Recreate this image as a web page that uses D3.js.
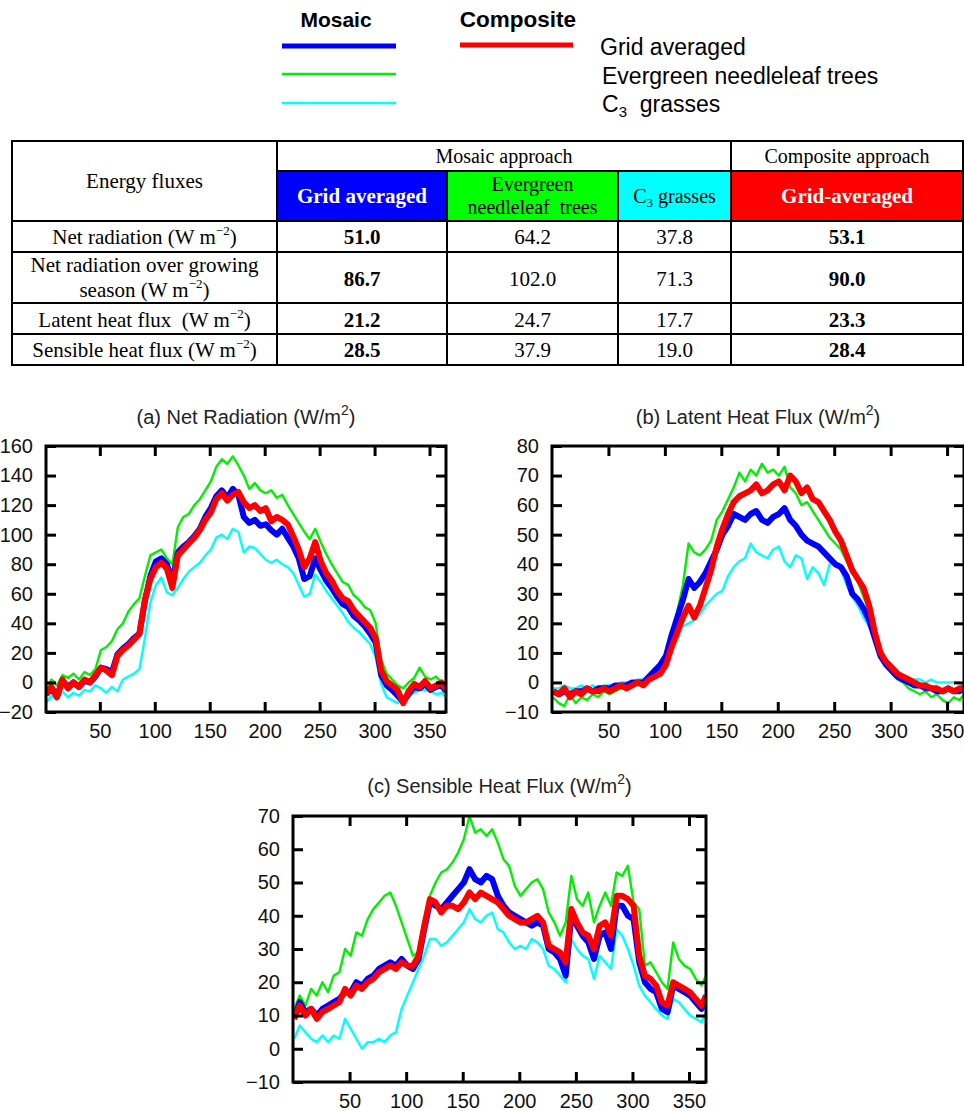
<!DOCTYPE html>
<html>
<head>
<meta charset="utf-8">
<script src="https://cdn.jsdelivr.net/npm/d3@7"></script>
<style>
  body { margin: 0; background: #fff; }
  svg { display: block; }
</style>
</head>
<body>
<div id="chart"></div>
<script>
// day of year used for every series (one value every 5 days)
const days = [1, 6, 11, 16, 21, 26, 31, 36, 41, 46, 51, 56, 61, 66, 71, 76, 81, 86, 91, 96,
  101, 106, 111, 116, 121, 126, 131, 136, 141, 146, 151, 156, 161, 166, 171, 176, 181, 186, 191, 196,
  201, 206, 211, 216, 221, 226, 231, 236, 241, 246, 251, 256, 261, 266, 271, 276, 281, 286, 291, 296,
  301, 306, 311, 316, 321, 326, 331, 336, 341, 346, 351, 356, 361, 365];

// (a) net radiation
const netRadTrees = [-5, 2, -2, 5, 3, 6, 2, 7, 5, 9, 22, 24, 28, 36, 40, 48, 53, 57, 72, 86,
  88, 90, 84, 80, 105, 112, 114, 120, 124, 130, 136, 146, 151, 148, 153, 147, 140, 131, 135, 130,
  128, 130, 125, 127, 120, 114, 108, 102, 97, 104, 95, 87, 80, 74, 68, 66, 59, 56, 51, 49,
  40, 15, 6, 2, -2, -4, 0, 3, 10, 4, 2, 4, 0, -3];
const netRadGrass = [-14, -9, -12, -6, -10, -7, -9, -5, -6, -2, -4, -7, -3, -6, 2, 4, 6, 9, 30, 54,
  66, 71, 61, 59, 64, 70, 75, 78, 81, 86, 90, 98, 100, 97, 104, 102, 88, 92, 91, 87,
  83, 81, 83, 80, 78, 74, 66, 58, 60, 73, 68, 62, 57, 52, 47, 41, 37, 34, 30, 26,
  17, -1, -10, -12, -14, -11, -9, -7, -5, -5, -6, -8, -7, -10];
const netRadMosaic = [-8, -4, -9, 1, -3, 0, -3, 1, 0, 4, 10, 9, 7, 19, 23, 26, 30, 33, 55, 72,
  82, 84, 80, 68, 88, 92, 95, 99, 104, 112, 118, 126, 130, 125, 131, 127, 112, 108, 110, 106,
  107, 103, 100, 104, 98, 92, 84, 70, 72, 84, 76, 69, 64, 58, 53, 51, 45, 42, 38, 33,
  27, 5, -2, -5, -9, -13, -8, -3, -4, -1, -5, -3, -2, -6];
const netRadComposite = [-8, -3, -10, 2, -4, 0, -3, 2, 0, 5, 10, 8, 5, 18, 22, 25, 29, 33, 56, 70,
  78, 81, 77, 64, 86, 90, 94, 98, 103, 110, 115, 124, 128, 123, 127, 129, 122, 118, 120, 116,
  118, 109, 112, 110, 107, 99, 90, 78, 84, 95, 82, 74, 69, 62, 57, 55, 49, 45, 41, 37,
  30, 8, 1, -2, -5, -14, -6, -1, -3, 1, -4, -2, 0, -5];

// (b) latent heat flux
const latentTrees = [-5, -7, -8, -4, -7, -5, -6, -4, -5, -3, -4, -3, -2, -2, -1, -1, 0, 1, 3, 6,
  9, 15, 24, 33, 47, 44, 43, 45, 48, 55, 58, 62, 66, 71, 68, 72, 70, 74, 71, 72,
  70, 73, 66, 64, 60, 61, 58, 55, 52, 49, 47, 45, 41, 37, 34, 29, 24, 17, 9, 6,
  3, 1, 0, -2, -3, -4, -3, -5, -4, -6, -7, -5, -6, -4];
const latentGrass = [-2, -2, -1, -2, -2, -1, -2, -1, -2, -1, -1, -1, 0, 0, 0, 1, 1, 2, 3, 5,
  7, 11, 14, 19, 20, 21, 23, 26, 28, 30, 31, 36, 39, 41, 42, 47, 44, 43, 42, 45,
  46, 41, 39, 43, 42, 35, 39, 37, 33, 40, 41, 38, 33, 29, 26, 22, 19, 15, 10, 8,
  6, 4, 2, 1, 1, 1, 0, 1, 0, 0, 0, 0, 0, -1];
const latentMosaic = [-3, -4, -3, -4, -3, -3, -2, -3, -2, -2, -2, -1, -1, -1, 0, 0, 0, 2, 4, 6,
  9, 16, 22, 28, 35, 32, 34, 37, 41, 45, 50, 53, 57, 56, 55, 57, 58, 55, 54, 56,
  57, 59, 55, 53, 50, 48, 47, 46, 44, 42, 40, 39, 36, 30, 28, 25, 21, 15, 9, 6,
  4, 2, 1, 0, -1, -1, -2, -2, -3, -3, -2, -3, -3, -2];
const latentComposite = [-3, -4, -2, -5, -3, -4, -2, -3, -3, -2, -3, -2, -1, -2, -1, 0, -1, 1, 2, 3,
  6, 12, 17, 22, 26, 22, 26, 32, 38, 46, 52, 57, 61, 63, 64, 65, 67, 64, 65, 67,
  68, 65, 70, 68, 64, 66, 62, 61, 58, 55, 51, 48, 43, 38, 35, 32, 26, 17, 10, 7,
  5, 3, 2, 1, 0, -1, -1, -2, -2, -3, -2, -3, -2, -2];

// (c) sensible heat flux
const sensibleTrees = [12, 16, 13, 18, 16, 20, 17, 22, 23, 30, 28, 35, 34, 39, 42, 44, 46, 47, 43, 38,
  33, 28, 29, 35, 46, 50, 53, 54, 56, 59, 63, 70, 65, 66, 64, 66, 62, 57, 55, 49,
  46, 48, 50, 51, 48, 41, 38, 34, 38, 52, 45, 43, 47, 38, 43, 47, 43, 53, 52, 55,
  44, 42, 25, 26, 23, 20, 18, 32, 27, 25, 24, 21, 19, 22];
const sensibleGrass = [3, 7, 5, 3, 2, 4, 2, 4, 3, 9, 6, 3, 0, 2, 2, 3, 2, 4, 5, 12,
  16, 20, 24, 28, 33, 33, 31, 32, 34, 36, 38, 42, 39, 38, 40, 41, 36, 35, 32, 30,
  31, 30, 33, 32, 30, 25, 24, 22, 20, 33, 30, 28, 27, 21, 28, 26, 24, 36, 34, 30,
  25, 19, 16, 14, 12, 10, 9, 15, 14, 12, 10, 9, 8, 11];
const sensibleMosaic = [9, 14, 11, 12, 10, 12, 13, 14, 15, 17, 17, 20, 19, 21, 22, 24, 25, 26, 25, 27,
  25, 24, 27, 36, 44, 43, 42, 44, 46, 48, 50, 54, 51, 50, 52, 51, 46, 43, 41, 40,
  39, 38, 37, 38, 37, 30, 29, 27, 22, 40, 37, 34, 32, 27, 34, 35, 30, 43, 43, 40,
  39, 26, 20, 18, 17, 12, 11, 19, 18, 17, 16, 14, 12, 15];
const sensibleComposite = [9, 13, 10, 12, 9, 11, 12, 13, 14, 18, 16, 19, 18, 20, 21, 23, 24, 25, 24, 26,
  25, 25, 28, 37, 45, 44, 41, 43, 43, 42, 44, 47, 45, 47, 46, 45, 44, 42, 40, 39,
  38, 38, 39, 40, 38, 31, 30, 29, 26, 42, 38, 35, 34, 30, 37, 38, 34, 46, 46, 45,
  43, 28, 22, 21, 19, 14, 13, 20, 19, 18, 17, 15, 13, 16];

// table
const rowNames = [["Net radiation (W m", ")"], ["Net radiation over growing", "season (W m", ")"],
  ["Latent heat flux \u00a0(W m", ")"], ["Sensible heat flux (W m", ")"]];
const mosaicGridVals = ["51.0", "86.7", "21.2", "28.5"];
const mosaicTreeVals = ["64.2", "102.0", "24.7", "37.9"];
const mosaicGrassVals = ["37.8", "71.3", "17.7", "19.0"];
const compositeGridVals = ["53.1", "90.0", "23.3", "28.4"];

const legendLabels = ["Grid averaged", "Evergreen needleleaf trees", "grasses"];

const BLUE = "#0000ff", RED = "#ff0000", GREEN = "#00f000", CYAN = "#00ffff";
const SANS = "'Liberation Sans', Arial, Helvetica, sans-serif";
const SERIF = "'Liberation Serif', 'Times New Roman', serif";

const svg = d3.select("#chart").append("svg")
  .attr("width", 964).attr("height", 1111);
svg.append("rect").attr("width", 964).attr("height", 1111).attr("fill", "#fff");

// ---------- legend ----------
const leg = svg.append("g").attr("font-family", SANS).attr("fill", "#000");
leg.append("text").attr("x", 336).attr("y", 27).attr("text-anchor", "middle")
  .attr("font-weight", "bold").attr("font-size", 21).text("Mosaic");
leg.append("text").attr("x", 518).attr("y", 27).attr("text-anchor", "middle")
  .attr("font-weight", "bold").attr("font-size", 22.5).text("Composite");

const legLines = [
  { x1: 282, x2: 396, y: 46, c: BLUE, w: 5 },
  { x1: 460, x2: 573, y: 45, c: RED, w: 5 },
  { x1: 282, x2: 396, y: 74, c: GREEN, w: 2.5 },
  { x1: 282, x2: 396, y: 103, c: CYAN, w: 2.5 }
];
leg.selectAll("line").data(legLines).enter().append("line")
  .attr("x1", d => d.x1).attr("x2", d => d.x2)
  .attr("y1", d => d.y).attr("y2", d => d.y)
  .attr("stroke", d => d.c).attr("stroke-width", d => d.w);

leg.append("text").attr("x", 600).attr("y", 55).attr("font-size", 23).text(legendLabels[0]);
leg.append("text").attr("x", 602).attr("y", 84).attr("font-size", 23).text(legendLabels[1]);
const c3 = leg.append("text").attr("x", 602).attr("y", 112).attr("font-size", 23);
c3.append("tspan").text("C");
c3.append("tspan").attr("font-size", 15).attr("dy", 5).text("3");
c3.append("tspan").attr("dy", -5).text("\u00a0\u00a0" + legendLabels[2]);

// ---------- table ----------
const tbl = svg.append("g").attr("font-family", SERIF).attr("font-size", 21);
const colX = [12, 277, 447, 618, 731, 963];
const rowY = [141, 171, 221, 252, 303, 334, 365];
const mid = (a, b) => (a + b) / 2;

const headCells = [
  { c: 1, fill: BLUE }, { c: 2, fill: "#00ff00" }, { c: 3, fill: CYAN }, { c: 4, fill: RED }
];
tbl.selectAll("rect.head").data(headCells).enter().append("rect")
  .attr("x", d => colX[d.c]).attr("y", rowY[1])
  .attr("width", d => colX[d.c + 1] - colX[d.c]).attr("height", rowY[2] - rowY[1])
  .attr("fill", d => d.fill);

const hLines = [
  [12, 963, 141], [277, 963, 171], [12, 963, 221], [12, 963, 252],
  [12, 963, 303], [12, 963, 334], [12, 963, 365]
];
const vLines = [
  [12, 141, 365], [963, 141, 365], [277, 141, 365], [447, 171, 365],
  [618, 171, 365], [731, 141, 365]
];
tbl.selectAll("line.h").data(hLines).enter().append("line")
  .attr("x1", d => d[0] - 1).attr("x2", d => d[1] + 1).attr("y1", d => d[2]).attr("y2", d => d[2])
  .attr("stroke", "#000").attr("stroke-width", 2);
tbl.selectAll("line.v").data(vLines).enter().append("line")
  .attr("x1", d => d[0]).attr("x2", d => d[0]).attr("y1", d => d[1]).attr("y2", d => d[2])
  .attr("stroke", "#000").attr("stroke-width", 2);

function cellText(x, y, txt, opts) {
  opts = opts || {};
  return tbl.append("text").attr("x", x).attr("y", y).attr("text-anchor", "middle")
    .attr("font-weight", opts.bold ? "bold" : null)
    .attr("fill", opts.fill || "#000")
    .attr("font-size", opts.size || 21)
    .text(txt);
}
cellText(mid(colX[0], colX[1]), 188, "Energy fluxes");
cellText(mid(colX[1], colX[4]), 163, "Mosaic approach", { size: 20 });
cellText(mid(colX[4], colX[5]), 163, "Composite approach", { size: 20 });
cellText(mid(colX[1], colX[2]), 203, "Grid averaged", { bold: true, fill: "#fff" });
cellText(mid(colX[2], colX[3]), 191, "Evergreen", { size: 20 });
cellText(mid(colX[2], colX[3]), 214, "needleleaf\u00a0 trees", { size: 20 });
const c3t = cellText(mid(colX[3], colX[4]), 203, "C", { size: 20 });
c3t.append("tspan").attr("font-size", 13).attr("dy", 4).text("3");
c3t.append("tspan").attr("dy", -4).text(" grasses");
cellText(mid(colX[4], colX[5]), 203, "Grid-averaged", { bold: true, fill: "#fff" });

function unitLabel(x, y, parts) {
  const t = cellText(x, y, parts[0]);
  t.append("tspan").attr("font-size", 13).attr("dy", -9).text("\u22122");
  t.append("tspan").attr("dy", 9).text(parts[1]);
}
const rowBase = [244, 286, 327, 357];
unitLabel(mid(colX[0], colX[1]), rowBase[0], rowNames[0]);
cellText(mid(colX[0], colX[1]), 272, rowNames[1][0]);
unitLabel(mid(colX[0], colX[1]), 297, rowNames[1].slice(1));
unitLabel(mid(colX[0], colX[1]), rowBase[2], rowNames[2]);
unitLabel(mid(colX[0], colX[1]), rowBase[3], rowNames[3]);

const valueCols = [
  { c: 1, vals: mosaicGridVals, bold: true },
  { c: 2, vals: mosaicTreeVals, bold: false },
  { c: 3, vals: mosaicGrassVals, bold: false },
  { c: 4, vals: compositeGridVals, bold: true }
];
valueCols.forEach(col => {
  col.vals.forEach((v, i) => {
    cellText(mid(colX[col.c], colX[col.c + 1]), rowBase[i], v, { bold: col.bold });
  });
});

// ---------- line panels ----------
const panels = [
  { id: "a", title: "(a) Net Radiation (W/m", left: 46, right: 446, top: 446, bottom: 712,
    xDomain: [1, 365], yDomain: [-20, 160], yTicks: d3.range(-20, 161, 20), titleY: 424,
    series: [netRadTrees, netRadGrass, netRadMosaic, netRadComposite] },
  { id: "b", title: "(b) Latent Heat Flux (W/m", left: 552, right: 964, top: 446, bottom: 712,
    xDomain: [0, 365], yDomain: [-10, 80], yTicks: d3.range(-10, 81, 10), titleY: 424,
    series: [latentTrees, latentGrass, latentMosaic, latentComposite] },
  { id: "c", title: "(c) Sensible Heat Flux (W/m", left: 293, right: 706, top: 816, bottom: 1082,
    xDomain: [0, 365], yDomain: [-10, 70], yTicks: d3.range(-10, 71, 10), titleY: 793,
    series: [sensibleTrees, sensibleGrass, sensibleMosaic, sensibleComposite] }
];
const seriesStyle = [
  { c: GREEN, w: 2.4 }, { c: CYAN, w: 2.4 }, { c: BLUE, w: 6 }, { c: RED, w: 6 }
];
const xTicks = [50, 100, 150, 200, 250, 300, 350];

panels.forEach(p => {
  const g = svg.append("g");
  const x = d3.scaleLinear().domain(p.xDomain).range([p.left, p.right]);
  const y = d3.scaleLinear().domain(p.yDomain).range([p.bottom, p.top]);

  g.append("clipPath").attr("id", "clip-" + p.id).append("rect")
    .attr("x", p.left).attr("y", p.top)
    .attr("width", p.right - p.left).attr("height", p.bottom - p.top);

  const line = d3.line().x((d, i) => x(days[i])).y(d => y(d));
  const lg = g.append("g").attr("clip-path", "url(#clip-" + p.id + ")");
  p.series.forEach((s, k) => {
    lg.append("path").datum(s).attr("d", line).attr("fill", "none")
      .attr("stroke", seriesStyle[k].c).attr("stroke-width", seriesStyle[k].w)
      .attr("stroke-linejoin", "round");
  });

  const styleAxis = sel => {
    sel.select(".domain").remove();
    sel.selectAll(".tick line").attr("stroke", "#000").attr("stroke-width", 3);
    sel.selectAll(".tick text").attr("font-family", SANS).attr("font-size", 20).attr("fill", "#111");
  };
  g.append("g").attr("transform", `translate(${p.left},0)`)
    .call(d3.axisLeft(y).tickValues(p.yTicks).tickSize(-10).tickPadding(13)).call(styleAxis);
  g.append("g").attr("transform", `translate(${p.right},0)`)
    .call(d3.axisRight(y).tickValues(p.yTicks).tickSize(-10).tickFormat("")).call(styleAxis);
  g.append("g").attr("transform", `translate(0,${p.bottom})`)
    .call(d3.axisBottom(x).tickValues(xTicks).tickSize(-10).tickPadding(12)).call(styleAxis);
  g.append("g").attr("transform", `translate(0,${p.top})`)
    .call(d3.axisTop(x).tickValues(xTicks).tickSize(-10).tickFormat("")).call(styleAxis);

  g.append("rect").attr("x", p.left).attr("y", p.top)
    .attr("width", p.right - p.left).attr("height", p.bottom - p.top)
    .attr("fill", "none").attr("stroke", "#000").attr("stroke-width", 3);

  const t = g.append("text").attr("x", (p.left + p.right) / 2).attr("y", p.titleY)
    .attr("text-anchor", "middle").attr("font-family", SANS).attr("font-size", 20)
    .attr("fill", "#222").text(p.title);
  t.append("tspan").attr("font-size", 14).attr("dy", -9).text("2");
  t.append("tspan").attr("dy", 9).text(")");
});
</script>
</body>
</html>
